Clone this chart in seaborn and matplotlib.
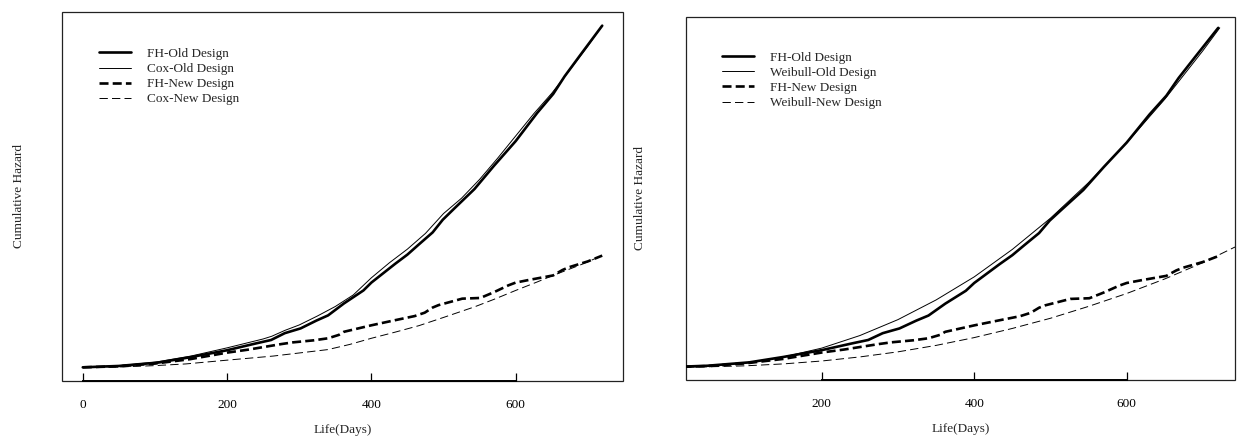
import matplotlib
matplotlib.use("Agg")
import matplotlib.pyplot as plt
import seaborn as sns
import pandas as pd

# ---------------- data ----------------
# Fleming-Harrington estimates (same in both panels)
fh_old_t = [0, 50, 105, 150, 200, 240, 261, 280, 302, 324, 340, 362, 389, 400, 433, 450,
            466, 485, 499, 515, 543, 570, 600, 630, 652, 668, 690, 720]
fh_old_h = [0, 0.004, 0.014, 0.030, 0.050, 0.070, 0.080, 0.100, 0.114, 0.137, 0.152, 0.187,
            0.225, 0.248, 0.303, 0.330, 0.360, 0.395, 0.432, 0.465, 0.522, 0.590, 0.662,
            0.745, 0.800, 0.852, 0.915, 1.000]

fh_new_t = [0, 50, 100, 149, 200, 230, 258, 275, 291, 320, 340, 355, 362, 400, 433, 460,
            474, 485, 493, 526, 551, 570, 590, 600, 619, 652, 665, 674, 700, 720]
fh_new_h = [0, 0.003, 0.011, 0.024, 0.043, 0.052, 0.062, 0.068, 0.073, 0.079, 0.085, 0.095,
            0.104, 0.123, 0.138, 0.150, 0.160, 0.175, 0.182, 0.201, 0.203, 0.220, 0.240,
            0.248, 0.256, 0.269, 0.285, 0.293, 0.310, 0.327]

# Cox model estimates (left panel)
cox_old_t = [0, 50, 100, 150, 200, 250, 262, 280, 300, 325, 350, 375, 400, 425, 450, 475,
             500, 525, 550, 575, 600, 625, 650, 675, 700, 720]
cox_old_h = [0, 0.005, 0.015, 0.033, 0.057, 0.083, 0.091, 0.108, 0.124, 0.150, 0.178, 0.212,
             0.262, 0.306, 0.346, 0.392, 0.450, 0.495, 0.550, 0.612, 0.677, 0.742, 0.802,
             0.870, 0.940, 1.000]

cox_new_t = [0, 50, 100, 143, 200, 264, 300, 340, 370, 400, 433, 466, 500, 543, 570, 600,
             630, 652, 690, 720]
cox_new_h = [0, 0.001, 0.005, 0.010, 0.021, 0.033, 0.042, 0.052, 0.067, 0.085, 0.103, 0.122,
             0.146, 0.177, 0.199, 0.225, 0.250, 0.269, 0.300, 0.327]

# Weibull model estimates (right panel)
wb_old_t = [22, 50, 100, 150, 200, 250, 300, 350, 400, 450, 500, 550, 600, 650, 700, 722]
wb_old_h = [0.0004, 0.0025, 0.012, 0.030, 0.056, 0.093, 0.140, 0.198, 0.266, 0.347, 0.439,
            0.544, 0.661, 0.790, 0.933, 1.000]

wb_new_t = [22, 50, 100, 150, 200, 250, 300, 350, 400, 450, 500, 550, 600, 650, 700, 742]
wb_new_h = [0.0001, 0.0008, 0.0038, 0.0095, 0.018, 0.030, 0.045, 0.064, 0.087, 0.114, 0.144,
            0.179, 0.217, 0.260, 0.308, 0.354]

left_labels = ["FH-Old Design", "Cox-Old Design", "FH-New Design", "Cox-New Design"]
right_labels = ["FH-Old Design", "Weibull-Old Design", "FH-New Design", "Weibull-New Design"]
x_ticks_left = [0, 200, 400, 600]
x_ticks_right = [200, 400, 600]
x_label = "Life(Days)"
y_label = "Cumulative Hazard"

# ---------------- style ----------------
sns.set_style("white")
plt.rcParams["font.family"] = ["Liberation Serif", "DejaVu Serif"]
plt.rcParams["font.size"] = 9.5
plt.rcParams["lines.scale_dashes"] = False

fig = plt.figure(figsize=(12.41, 4.38), dpi=100)
ax1 = fig.add_axes([0.04996, 0.13014, 0.45205, 0.84247])
ax2 = fig.add_axes([0.55278, 0.13242, 0.44239, 0.82877])

thick_dash = (0, (6.5, 3.0))
thin_dash = (0, (6.0, 3.0))


def draw(ax, series, labels):
    styles = [
        dict(lw=1.9, linestyle="-"),
        dict(lw=0.7, linestyle="-"),
        dict(lw=1.9, linestyle=thick_dash),
        dict(lw=0.7, linestyle=thin_dash),
    ]
    for (t, h), lab, st in zip(series, labels, styles):
        df = pd.DataFrame({"t": t, "h": h})
        sns.lineplot(data=df, x="t", y="h", ax=ax, color="black", label=lab,
                     estimator=None, sort=False, **st)


draw(ax1, [(fh_old_t, fh_old_h), (cox_old_t, cox_old_h),
           (fh_new_t, fh_new_h), (cox_new_t, cox_new_h)], left_labels)
draw(ax2, [(fh_old_t, fh_old_h), (wb_old_t, wb_old_h),
           (fh_new_t, fh_new_h), (wb_new_t, wb_new_h)], right_labels)

ax1.set_xlim(-28.8, 748.8)
ax1.set_ylim(-0.040, 1.040)
ax2.set_xlim(22, 742)
ax2.set_ylim(-0.038, 1.032)

for ax, ticks, ypad, anchor in [(ax1, x_ticks_left, 27, (0.066, 0.903)),
                                (ax2, x_ticks_right, 29, (0.0656, 0.905))]:
    ax.set_xticks(ticks)
    ax.set_xticklabels([str(v) for v in ticks])
    ax.set_yticks([])
    ax.tick_params(axis="x", direction="in", length=6, width=0.9, pad=13,
                   labelsize=9.5, colors="black", bottom=True)
    ax.set_xlabel(x_label, fontsize=9.5, labelpad=9)
    ax.set_ylabel(y_label, fontsize=9.5, labelpad=ypad)
    for s in ["top", "left", "right"]:
        ax.spines[s].set_visible(False)
    ax.spines["bottom"].set_bounds(ticks[0], ticks[-1])
    ax.spines["bottom"].set_linewidth(1.4)
    ax.spines["bottom"].set_color("black")
    ax.patch.set_edgecolor("#222222")
    ax.patch.set_linewidth(0.9)
    leg = ax.legend(loc="upper left", bbox_to_anchor=anchor, frameon=False,
                    borderpad=0, borderaxespad=0, handlelength=2.42,
                    handletextpad=1.2, labelspacing=0.22, fontsize=9.5)

fig.savefig("out.png", dpi=100)
